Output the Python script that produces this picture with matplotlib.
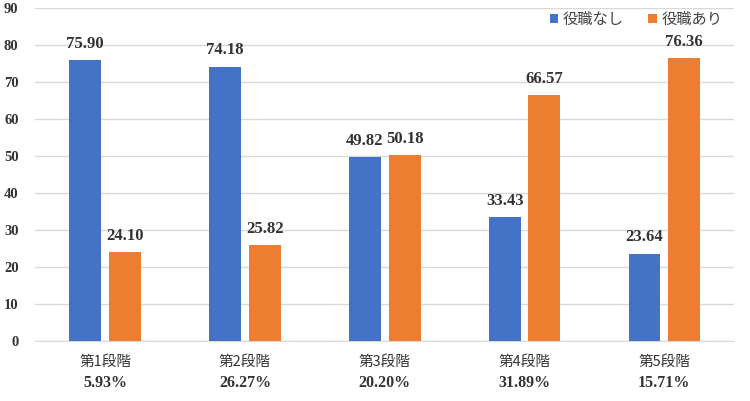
import numpy as np
import matplotlib
matplotlib.use("Agg")
import matplotlib.pyplot as plt
from matplotlib.transforms import blended_transform_factory

stages = ["第1段階", "第2段階", "第3段階", "第4段階", "第5段階"]
shares = ["5.93%", "26.27%", "20.20%", "31.89%", "15.71%"]
no_role = [75.90, 74.18, 49.82, 33.43, 23.64]
with_role = [24.10, 25.82, 50.18, 66.57, 76.36]
series_names = ["役職なし", "役職あり"]

blue = "#4472C4"
orange = "#ED7D31"
serif = ["Liberation Serif", "DejaVu Serif"]
jp = ["Noto Sans CJK JP", "DejaVu Sans"]

fig = plt.figure(figsize=(7.5, 4.01), dpi=100)
ax = fig.add_axes([0.047, 0.1496, 0.932, 0.8304])

x = np.arange(len(stages))
w = 0.228
off = 0.142
b1 = ax.bar(x - off, no_role, w, color=blue, label=series_names[0], zorder=3)
b2 = ax.bar(x + off, with_role, w, color=orange, label=series_names[1], zorder=3)

for bars, vals in [(b1, no_role), (b2, with_role)]:
    for r, v in zip(bars, vals):
        ax.text(r.get_x() + r.get_width() / 2, v + 2.2, f"{v:.2f}", ha="center", va="bottom",
                family=serif, fontweight="bold", fontsize=12, color="#333333")

ax.set_xlim(-0.5, len(stages) - 0.5)
ax.set_ylim(0, 90)
ax.set_yticks(range(0, 91, 10))
ax.set_yticklabels([str(t) for t in range(0, 91, 10)], family=serif, fontweight="bold",
                   fontsize=10.5, color="#333333")
ax.set_xticks([])
ax.yaxis.grid(True, color="#D9D9D9", linewidth=1, zorder=0)
ax.tick_params(axis="y", length=0, pad=12)
for s in ["top", "right", "left"]:
    ax.spines[s].set_visible(False)
ax.spines["bottom"].set_color("#D9D9D9")

tr = blended_transform_factory(ax.transData, fig.transFigure)
for i, (st, sh) in enumerate(zip(stages, shares)):
    ax.text(i, 1 - 362 / 401, st, ha="center", va="center", transform=tr,
            family=jp, fontsize=10.5, color="#333333")
    ax.text(i, 1 - 383 / 401, sh, ha="center", va="center", transform=tr,
            family=serif, fontweight="bold", fontsize=11.5, color="#333333")

leg = ax.legend(loc="upper right", bbox_to_anchor=(0.996, 1.02), ncol=2, frameon=False,
                prop={"family": jp, "size": 11}, handlelength=0.55, handleheight=0.55,
                handletextpad=0.3, columnspacing=1.6, borderaxespad=0.2)
for t in leg.get_texts():
    t.set_color("#404040")

fig.savefig("out.png", dpi=100)
